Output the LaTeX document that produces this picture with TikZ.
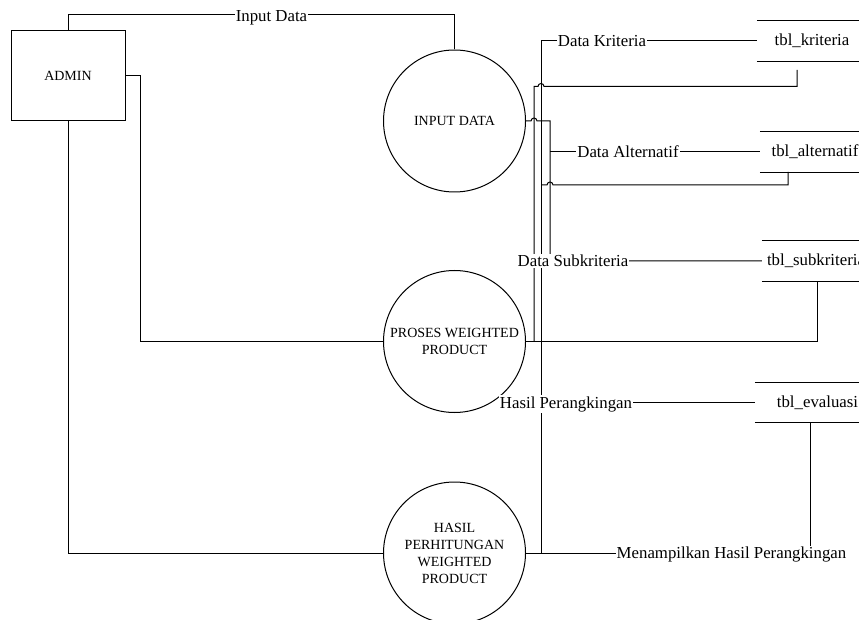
\documentclass[tikz,border=0pt]{standalone}
\usepackage{fontspec}
\setmainfont{Liberation Serif}
\newcommand\labfont{\fontsize{16.8}{20}\selectfont}
\newcommand\procfont{\fontsize{14}{17}\selectfont}
\tikzset{
 ln/.style={line width=1pt, line join=miter},
 proc/.style={circle, draw, line width=1pt, minimum size=142pt, inner sep=0pt, align=center, font=\procfont},
 ent/.style={rectangle, draw, line width=1pt, minimum width=114pt, minimum height=90pt, font=\procfont},
 store/.style={minimum height=40pt, inner sep=0pt, font=\labfont},
 lab/.style={fill=white, inner sep=1pt, anchor=base, font=\labfont},
}
\begin{document}
\begin{tikzpicture}[x=1pt,y=-1pt]
\path[use as bounding box] (0,0) rectangle (859,620);
\fill[white] (0,0) rectangle (859,620);
\clip (0,0) rectangle (859,620);

% entity and processes
\node[ent] (admin) at (68,76) {ADMIN};
\node[proc] (inp) at (454.5,121) {INPUT DATA};
\node[proc] (pro) at (454.5,341.5) {PROSES WEIGHTED\\PRODUCT};
\node[proc] (has) at (454.5,553) {HASIL\\PERHITUNGAN\\WEIGHTED\\PRODUCT};

% data stores
\node[store, minimum width=110pt] (kr) at (812,41) {tbl\_kriteria};
\node[store, minimum width=110pt] (al) at (815,152) {tbl\_alternatif};
\node[store, minimum width=108pt] (sk) at (816,261) {tbl\_subkriteria};
\node[store, minimum width=125pt] (ev) at (817.5,402.5) {tbl\_evaluasi};
\foreach \s in {kr,al,sk,ev}
  \draw[ln] (\s.north west) -- (\s.north east) (\s.south west) -- (\s.south east);

% coordinates
\coordinate (c1) at (68,15);
\coordinate (c2) at (140,341.5);
\coordinate (j41) at (541,553);
\coordinate (kb) at (797,70);
\coordinate (kc) at (797,86.5);
\coordinate (kd) at (534,341.5);
\coordinate (v50) at (550,261);
\coordinate (ab) at (788,172);
\coordinate (ac) at (788,185);
\coordinate (sb) at (817,341.5);
\coordinate (eb) at (810,553);

% connectors from ADMIN
\draw[ln] (admin.north) -- (c1) -| (inp.north);
\draw[ln] (admin.east) -| (c2) -- (pro.west);
\draw[ln] (admin.south) |- (has.west);

% long vertical from tbl_kriteria
\draw[ln] (kr.west) -| (j41);

% tbl_kriteria lower connector to PROSES
\draw[ln] (kb) -- (kc) -- (544,86.5) arc[start angle=0,end angle=180,radius=3pt] -- (kd |- kc) -- (kd);

% INPUT DATA to alternatif / subkriteria
\draw[ln] (inp.east) -- (531,121) arc[start angle=180,end angle=0,radius=3pt] -- (550,121) -- (v50) -- (sk.west);
\draw[ln] (al.west -| v50) -- (al.west);

% tbl_alternatif lower connector
\draw[ln] (ab) -- (ac) -- (553,185) arc[start angle=0,end angle=180,radius=3pt] -- (ac -| j41);

% PROSES right to tbl_subkriteria
\draw[ln] (pro.east) -- (sb) -- (sk.south -| sb);

% tbl_evaluasi
\draw[ln] (ev.west) -- (ev.west -| j41);
\draw[ln] (has.east) -- (eb) -- (ev.south -| eb);

% labels
\node[lab] (l1) at (271.5,21.5) {Input Data};
\node[lab] (l2) at (602,46.7) {Data Kriteria};
\node[lab] (l3) at (628,158) {Data Alternatif};
\node[lab] (l4) at (573,266.7) {Data Subkriteria};
\node[lab] (l5) at (566,408) {Hasil Perangkingan};
\node[lab] (l6) at (731.5,558.5) {Menampilkan Hasil Perangkingan};
\end{tikzpicture}
\end{document}
